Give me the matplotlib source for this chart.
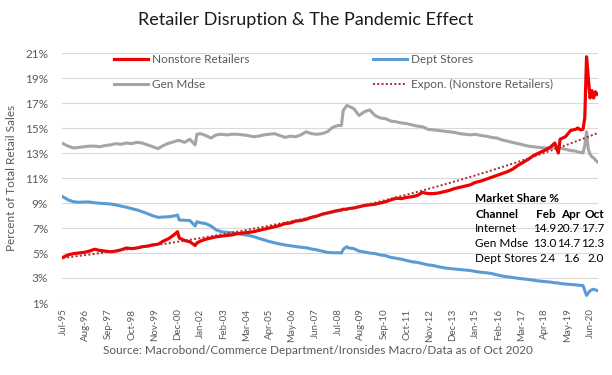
import matplotlib
matplotlib.use("Agg")
import matplotlib.pyplot as plt
import numpy as np

plt.rcParams['font.family'] = ['Lato', 'DejaVu Sans']

# sample dates (quarterly, plus a few extra months with visible moves)
dates = [
    "1995-07", "1995-10",
    "1996-01", "1996-04", "1996-07", "1996-10",
    "1997-01", "1997-04", "1997-07", "1997-10",
    "1998-01", "1998-04", "1998-07", "1998-10",
    "1999-01", "1999-04", "1999-07", "1999-10",
    "2000-01", "2000-04", "2000-07", "2000-10", "2000-12",
    "2001-01", "2001-04", "2001-07", "2001-10", "2001-11",
    "2002-01", "2002-04", "2002-07", "2002-10",
    "2003-01", "2003-04", "2003-07", "2003-10",
    "2004-01", "2004-04", "2004-07", "2004-10",
    "2005-01", "2005-04", "2005-07", "2005-10",
    "2006-01", "2006-04", "2006-07", "2006-10",
    "2007-01", "2007-04", "2007-07", "2007-10",
    "2008-01", "2008-04", "2008-07", "2008-09", "2008-10", "2008-12",
    "2009-01", "2009-04", "2009-07", "2009-10",
    "2010-01", "2010-04", "2010-07", "2010-10",
    "2011-01", "2011-04", "2011-07", "2011-10",
    "2012-01", "2012-04", "2012-07", "2012-10",
    "2013-01", "2013-04", "2013-07", "2013-10",
    "2014-01", "2014-04", "2014-07", "2014-10",
    "2015-01", "2015-04", "2015-07", "2015-10",
    "2016-01", "2016-04", "2016-07", "2016-10",
    "2017-01", "2017-04", "2017-07", "2017-10",
    "2018-01", "2018-04", "2018-07", "2018-10", "2018-12",
    "2019-01", "2019-04", "2019-07", "2019-10", "2019-11", "2019-12",
    "2020-01", "2020-02", "2020-03", "2020-04", "2020-05", "2020-06",
    "2020-07", "2020-08", "2020-09", "2020-10",
]

nonstore = [
    4.65, 4.85,
    4.95, 5.0, 5.05, 5.15,
    5.3, 5.2, 5.15, 5.1,
    5.15, 5.25, 5.4, 5.35,
    5.4, 5.5, 5.55, 5.65,
    5.7, 5.95, 6.15, 6.45, 6.7,
    6.2, 6.0, 5.9, 5.6, 5.8,
    5.95, 6.1, 6.2, 6.3,
    6.35, 6.4, 6.45, 6.55,
    6.6, 6.65, 6.7, 6.8,
    6.9, 7.0, 7.1, 7.2,
    7.35, 7.4, 7.55, 7.6,
    7.7, 7.85, 7.95, 8.1,
    8.2, 8.3, 8.4, 8.45, 8.5, 8.5,
    8.55, 8.6, 8.7, 8.8,
    8.85, 8.9, 9.0, 9.1,
    9.25, 9.38, 9.35, 9.45,
    9.5, 9.6, 9.85, 9.75,
    9.75, 9.8, 9.9, 10.0,
    10.15, 10.25, 10.35, 10.45,
    10.65, 10.75, 10.9, 11.05,
    11.2, 11.35, 11.5, 11.7,
    12.0, 12.25, 12.5, 12.8,
    13.0, 13.2, 13.4, 13.8, 13.0,
    14.1, 14.3, 14.8, 14.9, 15.0, 14.9,
    14.85, 14.9, 15.8, 20.7, 19.0, 17.4,
    18.0, 17.4, 17.9, 17.7,
]

gen_mdse = [
    13.75, 13.55,
    13.4, 13.45, 13.5, 13.55,
    13.55, 13.5, 13.6, 13.65,
    13.75, 13.7, 13.8, 13.75,
    13.85, 13.8, 13.65, 13.5,
    13.35, 13.6, 13.78, 13.9, 14.0,
    14.0, 13.85, 14.1, 13.65, 14.5,
    14.55, 14.4, 14.2, 14.45,
    14.5, 14.45, 14.5, 14.5,
    14.45, 14.4, 14.3, 14.35,
    14.45, 14.5, 14.55, 14.4,
    14.25, 14.35, 14.3, 14.45,
    14.7, 14.55, 14.5, 14.55,
    14.7, 15.05, 15.2, 15.2, 16.4, 16.8,
    16.75, 16.55, 16.0, 16.3,
    16.45, 16.0, 15.8, 15.75,
    15.55, 15.5, 15.4, 15.35,
    15.25, 15.15, 15.1, 14.9,
    14.85, 14.8, 14.75, 14.7,
    14.65, 14.55, 14.5, 14.45,
    14.5, 14.4, 14.35, 14.25,
    14.2, 14.05, 13.95, 13.85,
    13.75, 13.65, 13.55, 13.5,
    13.45, 13.4, 13.45, 13.4, 13.35,
    13.4, 13.3, 13.2, 13.15, 13.1, 13.05,
    13.05, 13.0, 13.6, 14.7, 13.3, 12.9,
    12.7, 12.6, 12.45, 12.3,
]

dept_stores = [
    9.5, 9.25,
    9.1, 9.06, 9.08, 9.08,
    9.02, 8.98, 8.95, 8.92,
    8.85, 8.75, 8.66, 8.55,
    8.45, 8.3, 8.15, 7.98,
    7.85, 7.88, 7.9, 7.96, 8.04,
    7.64, 7.62, 7.6, 7.16, 7.5,
    7.42, 7.35, 7.16, 6.84,
    6.7, 6.65, 6.62, 6.55,
    6.48, 6.42, 6.32, 6.18,
    6.05, 5.92, 5.82, 5.72,
    5.64, 5.58, 5.52, 5.46,
    5.42, 5.32, 5.25, 5.15,
    5.05, 5.02, 5.02, 5.0, 5.3, 5.5,
    5.4, 5.35, 5.15, 5.08,
    5.0, 4.95, 4.85, 4.78,
    4.65, 4.58, 4.5, 4.4,
    4.3, 4.25, 4.15, 4.05,
    4.0, 3.9, 3.82, 3.76,
    3.72, 3.68, 3.64, 3.6,
    3.52, 3.46, 3.42, 3.36,
    3.26, 3.16, 3.1, 3.04,
    2.98, 2.93, 2.88, 2.82,
    2.76, 2.72, 2.68, 2.62, 2.6,
    2.56, 2.52, 2.48, 2.45, 2.43, 2.42,
    2.4, 2.4, 2.0, 1.6, 1.8, 1.98,
    2.05, 2.1, 2.05, 2.0,
]

tick_labels = ["Jul-95", "Aug-96", "Sep-97", "Oct-98", "Nov-99", "Dec-00",
               "Jan-02", "Feb-03", "Mar-04", "Apr-05", "May-06", "Jun-07",
               "Jul-08", "Aug-09", "Sep-10", "Oct-11", "Nov-12", "Dec-13",
               "Jan-15", "Feb-16", "Mar-17", "Apr-18", "May-19", "Jun-20"]

table_cols = ["Feb", "Apr", "Oct"]
table_rows = ["Internet", "Gen Mdse", "Dept Stores"]
table_vals = [["14.9", "20.7", "17.7"],
              ["13.0", "14.7", "12.3"],
              ["2.4", "1.6", "2.0"]]

# month index since Jul-95 (category axis)
m = np.array([int(d[:4]) * 12 + int(d[5:]) - (1995 * 12 + 7) for d in dates])
n_months = 304

red = '#F00000'
blue = '#5B9BD5'
gray = '#A5A5A5'
grey_txt = '#595959'

fig = plt.figure(figsize=(6.12, 3.75), dpi=100)
ax = fig.add_axes([62 / 612, 1 - 303 / 375, 536 / 612, 250 / 375])

l_ns, = ax.plot(m, nonstore, color=red, lw=2.3, label='Nonstore Retailers', zorder=4)
l_ds, = ax.plot(m, dept_stores, color=blue, lw=2.2, label='Dept Stores', zorder=3)
l_gm, = ax.plot(m, gen_mdse, color=gray, lw=2.2, label='Gen Mdse', zorder=3)

# exponential trendline of nonstore share
w = np.sqrt(np.gradient(m.astype(float)))
b, a = np.polyfit(m, np.log(nonstore), 1, w=w)
mm = np.arange(n_months)
l_tr, = ax.plot(mm, np.exp(a + b * mm), color='#A52A2A', lw=1.4, ls=(0, (1, 1.2)),
                label='Expon. (Nonstore Retailers)', zorder=5)

ax.set_xlim(-0.5, n_months - 0.5)
ax.set_ylim(1, 21)
ax.set_yticks(np.arange(1, 22, 2))
ax.set_yticklabels([f'{v}%' for v in range(1, 22, 2)])
ax.set_xticks(np.arange(0, 300, 13))
ax.set_xticklabels(tick_labels, rotation=90)
ax.tick_params(axis='both', length=0, colors=grey_txt)
ax.tick_params(axis='y', pad=10, labelsize=8.5)
ax.tick_params(axis='x', pad=4, labelsize=7)
ax.grid(axis='y', color='#D9D9D9', lw=0.8)
ax.set_axisbelow(True)
for s in ax.spines.values():
    s.set_visible(False)

ax.set_ylabel('Percent of Total Retail Sales', color=grey_txt, fontsize=8.5, labelpad=6)

leg = fig.legend(handles=[l_ns, l_gm, l_ds, l_tr], ncol=2, frameon=False,
                 loc='upper left', bbox_to_anchor=(108 / 612, 1 - 48 / 375),
                 fontsize=8.5, handlelength=2.9, handletextpad=0.3,
                 columnspacing=10.5, labelspacing=1.2, borderpad=0)
for t in leg.get_texts():
    t.set_color(grey_txt)

fig.text(0.5, 1 - 20 / 375, 'Retailer Disruption & The Pandemic Effect',
         ha='center', va='center', fontsize=13, color='#1a1a1a')
fig.text(318 / 612, 1 - 350 / 375,
         'Source: Macrobond/Commerce Department/Ironsides Macro/Data as of Oct 2020',
         ha='center', va='center', fontsize=8.5, color=grey_txt)

# market share table
tx = 475 / 612
col_x = [556 / 612, 580 / 612, 604 / 612]
fig.text(tx, 1 - 199 / 375, 'Market Share %', fontsize=8.5, fontweight='bold',
         va='center', ha='left')
fig.text(tx, 1 - 214 / 375, 'Channel', fontsize=8.5, fontweight='bold',
         va='center', ha='left')
for cx, c in zip(col_x, table_cols):
    fig.text(cx, 1 - 214 / 375, c, fontsize=8.5, fontweight='bold', va='center', ha='right')
for i, (r, vals) in enumerate(zip(table_rows, table_vals)):
    y = 1 - (229 + 15 * i) / 375
    fig.text(tx, y, r, fontsize=8.5, va='center', ha='left')
    for cx, v in zip(col_x, vals):
        fig.text(cx, y, v, fontsize=8.5, va='center', ha='right')

fig.savefig('out.png', dpi=100)
